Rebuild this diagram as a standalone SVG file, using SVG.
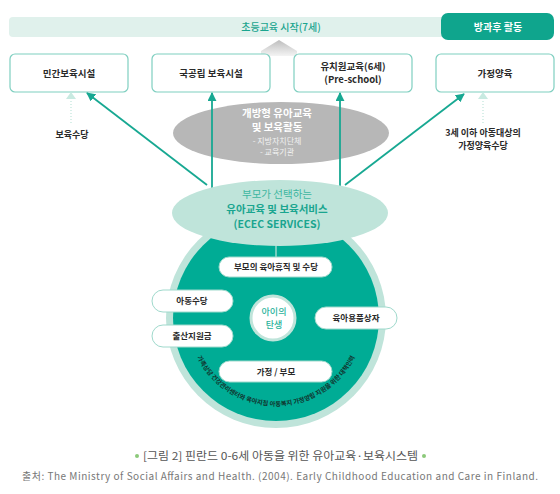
<svg xmlns="http://www.w3.org/2000/svg" width="560" height="494" viewBox="0 0 560 494">
<defs>
<style>
text{font-family:"Noto Sans CJK KR","Noto Sans",sans-serif;}
.box{fill:#fff;stroke:#7fcfc0;stroke-width:1.2;}
.bl{font-size:9.5px;font-weight:700;fill:#2a2a2a;text-anchor:middle;}
.pill{fill:#fff;stroke:#9fd9cc;stroke-width:1;}
.pl{font-size:8.5px;font-weight:700;fill:#2a2a2a;text-anchor:middle;}
.arr{stroke:#17a892;stroke-width:1.8;fill:none;marker-end:url(#ah);}
.dot{stroke:#bfe4da;stroke-width:1.2;stroke-dasharray:1 2;fill:none;}
.dh{fill:#c8eae1;}
</style>
<marker id="ah" viewBox="0 0 10 10" refX="9" refY="5" markerWidth="5" markerHeight="5" orient="auto" markerUnits="strokeWidth">
<path d="M0,0 L10,5 L0,10 Z" fill="#17a892"/>
</marker>
<linearGradient id="tg" x1="0" y1="0" x2="0" y2="1">
<stop offset="0" stop-color="#bdbdbd"/>
<stop offset="1" stop-color="#f4f4f4"/>
</linearGradient>
<path id="arc" d="M 196.2,355.2 A 88 88 0 0 0 355.8,355.2"/>
</defs>

<g id="topbar">
<rect x="9" y="17" width="540" height="20" rx="4" fill="#e0f1ec"/>
<text x="281" y="31" font-size="10" font-weight="500" fill="#1aa58f" text-anchor="middle">초등교육 시작(7세)</text>
</g>
<g id="afterschool">
<rect x="441" y="13" width="113" height="27" rx="7" fill="#0fa58d"/>
<text x="498" y="30.5" font-size="10" font-weight="700" fill="#fff" text-anchor="middle">방과후 활동</text>
</g>

<path d="M279,40 L297,51 L297,56 L261,56 L261,51 Z" fill="url(#tg)"/>

<g id="n1"><rect class="box" x="10" y="54" width="118" height="38" rx="5"/><text class="bl" x="69" y="76.5">민간보육시설</text></g>
<g id="n2"><rect class="box" x="152" y="54" width="118" height="38" rx="5"/><text class="bl" x="211" y="76.5">국공립 보육시설</text></g>
<g id="n3"><rect class="box" x="294" y="54" width="118" height="38" rx="5"/><text class="bl" x="353" y="70">유치원교육(6세)</text><text class="bl" x="353" y="83">(Pre-school)</text></g>
<g id="n4"><rect class="box" x="436" y="54" width="118" height="38" rx="5"/><text class="bl" x="495" y="76.5">가정양육</text></g>

<g id="connectors">
<path class="arr" d="M207,185 L87,93"/>
<path class="arr" d="M345,185 L464,94"/>
<path class="dot" d="M71,98 L71,124"/>
<path class="dh" d="M66,99 L71,92 L76,99 Z"/>
<path class="dot" d="M483,98 L483,124"/>
<path class="dh" d="M478,99 L483,92 L488,99 Z"/>
</g>

<g id="open">
<ellipse cx="281" cy="133" rx="108" ry="31" fill="#b7b7b7"/>
<text x="277" y="117" font-size="10.5" font-weight="700" fill="#fff" text-anchor="middle">개방형 유아교육</text>
<text x="277" y="131" font-size="10.5" font-weight="700" fill="#fff" text-anchor="middle">및 보육활동</text>
<text x="277" y="144" font-size="8" fill="#f2f2f2" text-anchor="middle">- 지방자치단체</text>
<text x="277" y="155" font-size="8" fill="#f2f2f2" text-anchor="middle">- 교육기관</text>
</g>

<g id="connectors2">
<path class="arr" d="M212,195 L212,93"/>
<path class="arr" d="M340,195 L340,93"/>
</g>

<g id="lbl1"><text x="72" y="138" font-size="9" font-weight="700" fill="#2a2a2a" text-anchor="middle">보육수당</text></g>
<g id="lbl2"><text x="483" y="136" font-size="9" font-weight="700" fill="#2a2a2a" text-anchor="middle">3세 이하 아동대상의</text><text x="483" y="148.5" font-size="9" font-weight="700" fill="#2a2a2a" text-anchor="middle">가정양육수당</text></g>

<g id="circle">
<circle cx="276" cy="318" r="110" fill="#bfe4da"/>
<circle cx="276" cy="318" r="103" fill="#00ac95"/>
<line x1="276" y1="230" x2="276" y2="257" stroke="#bfe4da" stroke-width="1.2"/>
<text font-size="6.3" font-weight="700" fill="#12332d"><textPath href="#arc" startOffset="50%" text-anchor="middle">가족상담 건강관리센터와 육아지침 아동복지 가정양립 지원을 위한 대책인력</textPath></text>
</g>

<g id="ecec">
<ellipse cx="280" cy="213" rx="108" ry="33" fill="#bfe4da"/>
<text x="277" y="198" font-size="10.5" fill="#3db6a0" text-anchor="middle">부모가 선택하는</text>
<text x="277" y="213" font-size="10.5" font-weight="700" fill="#1aa58f" text-anchor="middle">유아교육 및 보육서비스</text>
<text x="277" y="228" font-size="10.5" font-weight="700" fill="#1aa58f" text-anchor="middle">(ECEC SERVICES)</text>
</g>

<g id="p1"><rect class="pill" x="219" y="257" width="113" height="20" rx="10"/><text class="pl" x="276" y="270">부모의 육아휴직 및 수당</text></g>
<g id="p2"><rect class="pill" x="152" y="290" width="81" height="22" rx="11"/><text class="pl" x="192" y="304">아동수당</text></g>
<g id="p3"><rect class="pill" x="152" y="325" width="81" height="22" rx="11"/><text class="pl" x="192" y="339">출산지원금</text></g>
<g id="p4"><rect class="pill" x="315" y="307" width="82" height="22" rx="11"/><text class="pl" x="356" y="321">육아용품상자</text></g>
<g id="p5"><rect class="pill" x="219" y="361" width="113" height="21" rx="10.5"/><text class="pl" x="276" y="374.5">가정 / 부모</text></g>
<g id="birth">
<circle cx="273" cy="318" r="22" fill="#fff" stroke="#bfe4da" stroke-width="3"/>
<text x="274" y="315" font-size="9" font-weight="500" fill="#2ab39c" text-anchor="middle">아이의</text>
<text x="274" y="327.5" font-size="9" font-weight="500" fill="#2ab39c" text-anchor="middle">탄생</text>
</g>

<g id="caption">
<circle cx="137" cy="456" r="2" fill="#8cc97a"/>
<circle cx="424" cy="456" r="2" fill="#8cc97a"/>
<text x="143" y="460" font-size="11" fill="#555" textLength="275" lengthAdjust="spacingAndGlyphs">[그림 2] 핀란드 0-6세 아동을 위한 유아교육·보육시스템</text>
<text x="22" y="480" font-size="10" fill="#777" textLength="516" lengthAdjust="spacing">출처: The Ministry of Social Affairs and Health. (2004). Early Childhood Education and Care in Finland.</text>
</g>
</svg>
